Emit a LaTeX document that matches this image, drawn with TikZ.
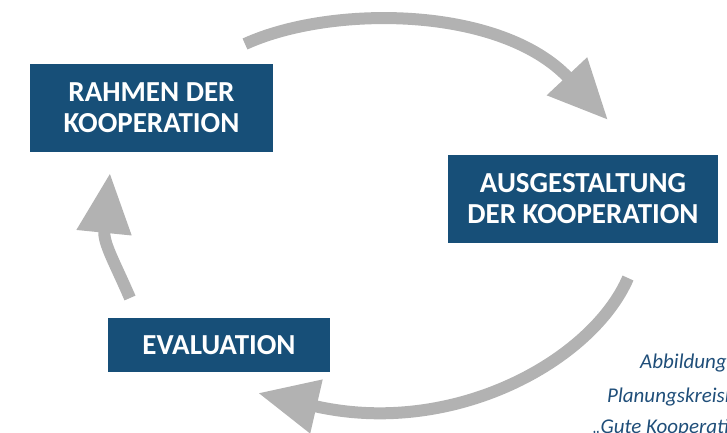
\documentclass[tikz,border=0pt]{standalone}
\usepackage{fontspec}
\setmainfont{Carlito}
\usetikzlibrary{arrows.meta}
\definecolor{boxblue}{RGB}{23,79,120}
\definecolor{capblue}{RGB}{31,78,121}
\definecolor{arrowgray}{RGB}{178,178,178}
\begin{document}
\begin{tikzpicture}[x=1pt,y=-1pt,
  stage/.style={rectangle, fill=boxblue, text=white, align=center,
    inner sep=0pt, font=\bfseries\fontsize{29}{31}\selectfont},
  cycle/.style={draw=arrowgray, line width=12pt,
    -{Triangle[length=60pt,width=52pt]}},
  caption/.style={anchor=base west, inner sep=0pt, text=capblue,
    font=\itshape\fontsize{21}{24}\selectfont}]
\useasboundingbox (0,0) rectangle (727,432);
\clip (0,0) rectangle (727,432);

% the three stages
\node[stage, minimum width=243pt, minimum height=88pt] (rahmen) at (151.5,108)
  {RAHMEN DER\\KOOPERATION};
\node[stage, minimum width=270pt, minimum height=88pt] (ausgest) at (583,199)
  {AUSGESTALTUNG\\DER KOOPERATION};
\node[stage, minimum width=222pt, minimum height=54pt] (eval) at (219,345)
  {EVALUATION};

% ends of the curved cycle arrows
\coordinate (r2a) at (245,44);
\coordinate (r2aTip) at (608,120);
\coordinate (a2e) at (628,278);
\coordinate (a2eTip) at (258,393);
\coordinate (e2r) at (130,298);
\coordinate (e2rTip) at (110,173);

\draw[cycle] (r2a) .. controls (330,5) and (500,5) .. (r2aTip);
\draw[cycle] (a2e) .. controls (592,361) and (453,438) .. (a2eTip);
\draw[cycle] (e2r) .. controls (114,261) and (103,243) .. (e2rTip);

% caption, running off the right edge
\node[caption] (cap1) at (640,368) {Abbildung};
\node[caption] (cap2) at (607,402) {Planungskreisl};
\node[caption] (cap3) at (592,433) {„Gute Kooperati};
\end{tikzpicture}
\end{document}
